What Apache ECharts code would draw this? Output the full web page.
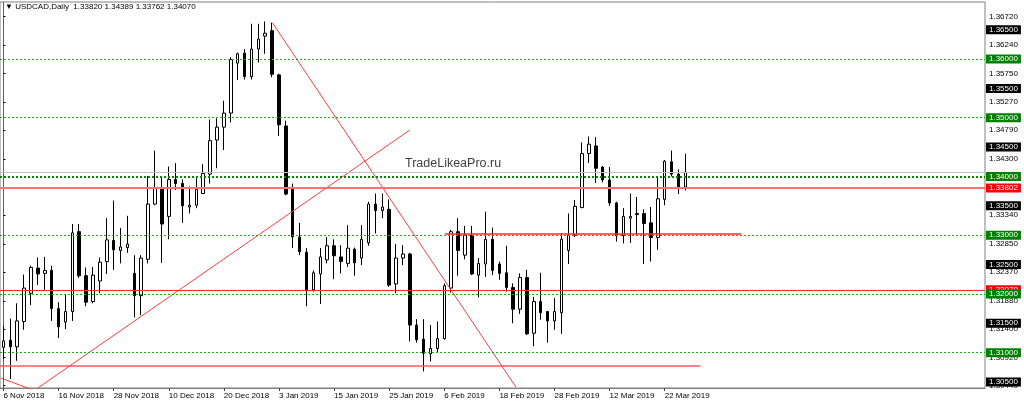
<!DOCTYPE html>
<html>
<head>
<meta charset="utf-8">
<title>USDCAD Daily</title>
<script src="https://cdn.jsdelivr.net/npm/echarts@6/dist/echarts.min.js"></script>
<style>
  html, body { margin: 0; padding: 0; background: #fff; }
  #chart { width: 1024px; height: 406px; }
</style>
</head>
<body>
<div id="chart"></div>
<script>
// USDCAD daily bars, 6 Nov 2018 .. 27 Mar 2019
const symbol = 'USDCAD,Daily';

const dates = [
  '6 Nov 2018', '7 Nov 2018', '8 Nov 2018', '9 Nov 2018', '12 Nov 2018', '13 Nov 2018', '14 Nov 2018', '15 Nov 2018',
  '16 Nov 2018', '19 Nov 2018', '20 Nov 2018', '21 Nov 2018', '22 Nov 2018', '23 Nov 2018', '26 Nov 2018', '27 Nov 2018',
  '28 Nov 2018', '29 Nov 2018', '30 Nov 2018', '3 Dec 2018', '4 Dec 2018', '5 Dec 2018', '6 Dec 2018', '7 Dec 2018',
  '10 Dec 2018', '11 Dec 2018', '12 Dec 2018', '13 Dec 2018', '14 Dec 2018', '17 Dec 2018', '18 Dec 2018', '19 Dec 2018',
  '20 Dec 2018', '21 Dec 2018', '24 Dec 2018', '26 Dec 2018', '27 Dec 2018', '28 Dec 2018', '31 Dec 2018', '2 Jan 2019',
  '3 Jan 2019', '4 Jan 2019', '7 Jan 2019', '8 Jan 2019', '9 Jan 2019', '10 Jan 2019', '11 Jan 2019', '14 Jan 2019',
  '15 Jan 2019', '16 Jan 2019', '17 Jan 2019', '18 Jan 2019', '21 Jan 2019', '22 Jan 2019', '23 Jan 2019', '24 Jan 2019',
  '25 Jan 2019', '28 Jan 2019', '29 Jan 2019', '30 Jan 2019', '31 Jan 2019', '1 Feb 2019', '4 Feb 2019', '5 Feb 2019',
  '6 Feb 2019', '7 Feb 2019', '8 Feb 2019', '11 Feb 2019', '12 Feb 2019', '13 Feb 2019', '14 Feb 2019', '15 Feb 2019',
  '18 Feb 2019', '19 Feb 2019', '20 Feb 2019', '21 Feb 2019', '22 Feb 2019', '25 Feb 2019', '26 Feb 2019', '27 Feb 2019',
  '28 Feb 2019', '1 Mar 2019', '4 Mar 2019', '5 Mar 2019', '6 Mar 2019', '7 Mar 2019', '8 Mar 2019', '11 Mar 2019',
  '12 Mar 2019', '13 Mar 2019', '14 Mar 2019', '15 Mar 2019', '18 Mar 2019', '19 Mar 2019', '20 Mar 2019', '21 Mar 2019',
  '22 Mar 2019', '25 Mar 2019', '26 Mar 2019', '27 Mar 2019'
];

const opens = [
  1.3109, 1.3121, 1.3110, 1.3153, 1.3201, 1.3244, 1.3235, 1.3240, 1.3175, 1.3152,
  1.3170, 1.3306, 1.3231, 1.3187, 1.3222, 1.3255, 1.3291, 1.3274, 1.3279, 1.3235,
  1.3197, 1.3259, 1.3353, 1.3380, 1.3332, 1.3395, 1.3388, 1.3348, 1.3351, 1.3371,
  1.3404, 1.3462, 1.3484, 1.3508, 1.3593, 1.3610, 1.3570, 1.3617, 1.3639, 1.3648,
  1.3573, 1.3486, 1.3378, 1.3297, 1.3271, 1.3207, 1.3234, 1.3258, 1.3282, 1.3263,
  1.3252, 1.3276, 1.3261, 1.3287, 1.3353, 1.3342, 1.3344, 1.3217, 1.3261, 1.3268,
  1.3147, 1.3123, 1.3098, 1.3107, 1.3124, 1.3210, 1.3306, 1.3266, 1.3300, 1.3232,
  1.3251, 1.3293, 1.3251, 1.3236, 1.3211, 1.3174, 1.3228, 1.3133, 1.3187, 1.3170,
  1.3154, 1.3168, 1.3274, 1.3300, 1.3347, 1.3439, 1.3452, 1.3416, 1.3394, 1.3355,
  1.3299, 1.3329, 1.3335, 1.3337, 1.3321, 1.3296, 1.3361, 1.3425, 1.3404, 1.33820
];
const highs = [
  1.3145, 1.3158, 1.3184, 1.3233, 1.3248, 1.3262, 1.3263, 1.3248, 1.3186, 1.3200,
  1.3319, 1.3319, 1.3245, 1.3246, 1.3262, 1.3329, 1.3359, 1.3312, 1.3333, 1.3266,
  1.3266, 1.3401, 1.3444, 1.3400, 1.3417, 1.3423, 1.3395, 1.3383, 1.3397, 1.3421,
  1.3497, 1.3499, 1.3529, 1.3603, 1.3611, 1.3617, 1.3660, 1.3660, 1.3664, 1.3662,
  1.3575, 1.3495, 1.3388, 1.3321, 1.3278, 1.3240, 1.3278, 1.3297, 1.3293, 1.3283,
  1.3317, 1.3279, 1.3317, 1.3357, 1.3371, 1.3371, 1.3361, 1.3285, 1.3283, 1.3270,
  1.3157, 1.3157, 1.3147, 1.3153, 1.3218, 1.3309, 1.3329, 1.3316, 1.3316, 1.3261,
  1.3340, 1.3313, 1.3255, 1.3282, 1.3218, 1.3235, 1.3241, 1.3195, 1.3236, 1.3171,
  1.3193, 1.3303, 1.3337, 1.3360, 1.3458, 1.3468, 1.3467, 1.3418, 1.3416, 1.3357,
  1.3346, 1.3371, 1.3365, 1.3344, 1.3348, 1.3399, 1.3428, 1.3444, 1.3412, 1.34389
];
const lows = [
  1.3089, 1.3055, 1.3086, 1.3139, 1.3181, 1.3215, 1.3207, 1.3154, 1.3125, 1.3140,
  1.3154, 1.3227, 1.3179, 1.3184, 1.3201, 1.3234, 1.3241, 1.3252, 1.3270, 1.3160,
  1.3164, 1.3252, 1.3351, 1.3253, 1.3293, 1.3377, 1.3321, 1.3337, 1.3346, 1.3370,
  1.3388, 1.3414, 1.3445, 1.3492, 1.3564, 1.3565, 1.3565, 1.3594, 1.3609, 1.3569,
  1.3469, 1.3368, 1.3278, 1.3266, 1.3179, 1.3204, 1.3183, 1.3252, 1.3225, 1.3235,
  1.3246, 1.3231, 1.3249, 1.3282, 1.3303, 1.3329, 1.3212, 1.3201, 1.3249, 1.3119,
  1.3117, 1.3068, 1.3085, 1.3100, 1.3122, 1.3202, 1.3231, 1.3259, 1.3232, 1.3194,
  1.3229, 1.3232, 1.3224, 1.3204, 1.3150, 1.3166, 1.3130, 1.3111, 1.3156, 1.3117,
  1.3139, 1.3132, 1.3251, 1.3297, 1.3346, 1.3423, 1.3389, 1.3390, 1.3350, 1.3289,
  1.3286, 1.3287, 1.3300, 1.3251, 1.3255, 1.3275, 1.3351, 1.3400, 1.3370, 1.33762
];
const closes = [
  1.3120, 1.3110, 1.3154, 1.3210, 1.3245, 1.3234, 1.3240, 1.3175, 1.3144, 1.3170,
  1.3304, 1.3231, 1.3186, 1.3232, 1.3254, 1.3292, 1.3275, 1.3280, 1.3285, 1.3197,
  1.3261, 1.3353, 1.3380, 1.3319, 1.3395, 1.3388, 1.3350, 1.3351, 1.3378, 1.3405,
  1.3461, 1.3484, 1.3508, 1.3599, 1.3609, 1.3570, 1.3617, 1.3634, 1.3644, 1.3574,
  1.3488, 1.3370, 1.3297, 1.3272, 1.3207, 1.3236, 1.3263, 1.3282, 1.3265, 1.3255,
  1.3278, 1.3253, 1.3293, 1.3353, 1.3342, 1.3348, 1.3215, 1.3261, 1.3268, 1.3147,
  1.3122, 1.3099, 1.3107, 1.3124, 1.3214, 1.3306, 1.3274, 1.3300, 1.3234, 1.3252,
  1.3293, 1.3240, 1.3235, 1.3211, 1.3174, 1.3228, 1.3132, 1.3187, 1.3168, 1.3154,
  1.3170, 1.3293, 1.3300, 1.3349, 1.3439, 1.3455, 1.3414, 1.3394, 1.3355, 1.3299,
  1.3332, 1.3332, 1.3337, 1.3320, 1.3296, 1.3362, 1.3426, 1.3404, 1.3382, 1.34070
];

// price scale labels on the right
const tickLabels = [1.36720, 1.36240, 1.35750, 1.35270, 1.34790, 1.34300, 1.33820,
  1.33340, 1.32850, 1.32370, 1.31880, 1.31400, 1.30920, 1.30440];

// horizontal levels
const greenLevels = [1.36, 1.35, 1.33, 1.32, 1.31];
const strongLevel = 1.34;
const blackLevels = [1.365, 1.355, 1.345, 1.335, 1.325, 1.315, 1.305];
const redLevels = [1.33802, 1.32070];

// drawn objects: [bar index, price]
const supportLine = [[-0.5, 1.30773], [101.2, 1.30773]];
const rangeLine = [[64.1, 1.3302], [107.1, 1.3302]];
const trendDown1 = [[-0.4, 1.30568], [4.6, 1.30352]];
const trendUp = [[5.0, 1.30398], [59.0, 1.34791]];
const trendDown2 = [[39.05, 1.36618], [74.4, 1.30415]];

const emptySlots = 43;
const categories = dates.concat(new Array(emptySlots).fill(''));
const candles = dates.map((d, i) => [opens[i], closes[i], lows[i], highs[i]]);
const last = dates.length - 1;

const FONT = 'Liberation Sans, Arial, sans-serif';
const GREEN = '#008000';

function boxLabel(bg) {
  return {
    show: true, position: 'end', distance: 1,
    formatter: p => Number(p.value).toFixed(5),
    backgroundColor: bg, color: '#fff',
    fontFamily: FONT, fontSize: 8, padding: [1, 3, 0, 3]
  };
}

const levelLines = [];
blackLevels.forEach(v => levelLines.push({
  yAxis: v, lineStyle: { color: 'rgba(0,0,0,0)', width: 1, type: 'solid' }, label: boxLabel('#000')
}));
levelLines.push({
  yAxis: closes[last], lineStyle: { color: '#c0c0c0', width: 1, type: 'solid' },
  label: { show: false }
});
levelLines.push({
  yAxis: redLevels[1], lineStyle: { color: '#ff2a2a', width: 1, type: 'solid' },
  label: boxLabel('#ff0000')
});
levelLines.push({
  yAxis: redLevels[0], lineStyle: { color: '#ff7272', width: 2, type: 'solid' },
  label: boxLabel('#ff0000')
});
greenLevels.forEach(v => levelLines.push({
  yAxis: v, lineStyle: { color: '#12b012', width: 1, type: [2, 2] }, label: boxLabel(GREEN)
}));
levelLines.push({
  yAxis: strongLevel, lineStyle: { color: '#008c00', width: 2, type: [2, 2] }, label: boxLabel(GREEN)
});

function segment(data, width, color) {
  return {
    type: 'line', xAxisIndex: 1, yAxisIndex: 0, data: data,
    symbol: 'none', silent: true, clip: true, z: 3,
    lineStyle: { color: color || '#ff3a3a', width: width || 1 }
  };
}

const showIdx = idx => idx < dates.length && idx % 8 === 0;

const chart = echarts.init(document.getElementById('chart'), null, { renderer: 'canvas' });
chart.setOption({
  animation: false,
  backgroundColor: '#fff',
  title: {
    text: '\u25BC ' + symbol + '  ' + [opens[last], highs[last], lows[last], closes[last]]
      .map(v => v.toFixed(5)).join(' '),
    left: 5, top: 3, padding: 0,
    textStyle: { fontFamily: FONT, fontSize: 8, fontWeight: 'normal', color: '#000' }
  },
  grid: {
    left: -0.74, right: 39, top: 2, bottom: 18,
    show: true, borderColor: '#808080', borderWidth: 1, backgroundColor: 'transparent'
  },
  graphic: [{
    type: 'text', left: 405, top: 157, silent: true,
    style: { text: 'TradeLikeaPro.ru', fill: '#404040', font: '12.5px ' + FONT }
  }],
  xAxis: [{
    type: 'category', data: categories, boundaryGap: true,
    axisLine: { lineStyle: { color: '#808080' } },
    axisTick: { show: true, interval: showIdx, alignWithLabel: true, length: 3, lineStyle: { color: '#404040' } },
    axisLabel: { interval: showIdx, align: 'left', margin: 4, color: '#000', fontFamily: FONT, fontSize: 8 },
    splitLine: { show: false }
  }, {
    type: 'value', min: -0.5, max: categories.length - 0.5, show: false
  }],
  yAxis: {
    type: 'value', position: 'right', scale: true,
    min: 1.30398, max: 1.36971,
    axisLine: { show: true, lineStyle: { color: '#606060' } },
    axisTick: { show: true, length: 2, customValues: tickLabels, lineStyle: { color: '#000' } },
    axisLabel: {
      customValues: tickLabels, margin: 4, color: '#000', fontFamily: FONT, fontSize: 8,
      formatter: v => Number(v).toFixed(5)
    },
    splitLine: { show: false }
  },
  series: [{
    type: 'candlestick', data: candles, barWidth: 3, silent: true,
    itemStyle: { color: '#fff', color0: '#000', borderColor: '#000', borderColor0: '#000', borderWidth: 1 },
    markLine: { symbol: ['none', 'none'], silent: true, animation: false, precision: 5, data: levelLines }
  },
  segment(supportLine, 1.5, '#ff5a5a'),
  segment(rangeLine, 1.5, '#ff2a2a'),
  segment(trendDown1),
  segment(trendUp),
  segment(trendDown2)]
});
</script>
</body>
</html>
